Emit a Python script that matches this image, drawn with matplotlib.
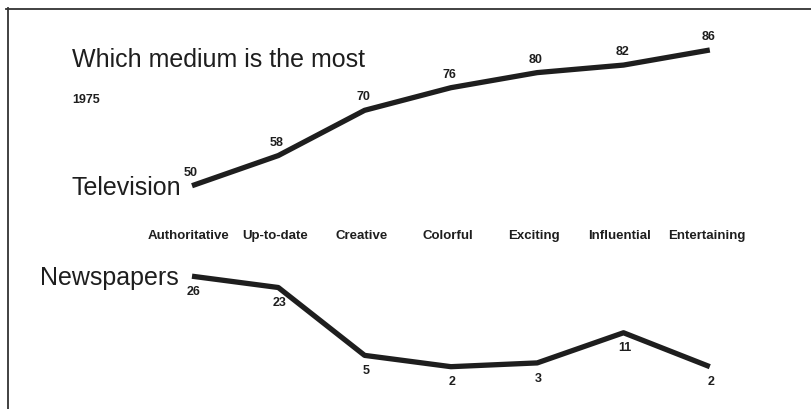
import matplotlib
matplotlib.use("Agg")
import matplotlib.pyplot as plt
from matplotlib.lines import Line2D

categories = ["Authoritative", "Up-to-date", "Creative", "Colorful", "Exciting", "Influential", "Entertaining"]
television = [50, 58, 70, 76, 80, 82, 86]
newspapers = [26, 23, 5, 2, 3, 11, 2]

W, H = 812, 409
fig = plt.figure(figsize=(W / 100, H / 100), dpi=100)
ax = fig.add_axes([0, 0, 1, 1])
ax.set_axis_off()

# pixel mapping: x index -> 192 + 86.3*i ; value -> 50 + (86 - v)*3.77
px0, dx = 192.0, 86.3
vy0, dv = 50.0, 3.77
ax.set_xlim(-px0 / dx, (W - px0) / dx)
ax.set_ylim(86 - (H - vy0) / dv, 86 + vy0 / dv)

xs = list(range(len(categories)))
ink = "#1e1e1e"
ax.plot(xs, television, color=ink, lw=3.8, solid_capstyle="butt", solid_joinstyle="round")
ax.plot(xs, newspapers, color=ink, lw=3.8, solid_capstyle="butt", solid_joinstyle="round")

fam = ["Liberation Sans Narrow", "Liberation Sans", "DejaVu Sans"]
small = dict(fontsize=9.5, fontweight="bold", color=ink, family=fam)
num = dict(fontsize=9, fontweight="bold", color=ink, family=fam)

# data labels
for i, v in enumerate(television):
    ax.annotate(str(v), (i, v), xytext=(-1, 5), textcoords="offset points",
                ha="center", va="bottom", **num)
for i, v in enumerate(newspapers):
    ax.annotate(str(v), (i, v), xytext=(1, -7), textcoords="offset points",
                ha="center", va="top", **num)

# category labels
for i, c in enumerate(categories):
    ax.text(i - 0.04, 86 - (236 - vy0) / dv, c, ha="center", va="center", **small)

def fx(p):
    return p / W

def fy(p):
    return 1 - p / H

big = dict(fontsize=18, color=ink, family=fam)
fig.text(fx(72), fy(60), "Which medium is the most", ha="left", va="center", **big)
fig.text(fx(72), fy(100), "1975", ha="left", va="center", **num)
fig.text(fx(72), fy(188), "Television", ha="left", va="center", **big)
fig.text(fx(40), fy(278), "Newspapers", ha="left", va="center", **big)

# frame lines (top and left)
fig.add_artist(Line2D([fx(6), fx(812)], [fy(8.5), fy(8.5)], color="#333333", lw=1.3))
fig.add_artist(Line2D([fx(8.5), fx(8.5)], [fy(8), fy(409)], color="#333333", lw=1.3))

fig.savefig("out.png", dpi=100, facecolor="white")
